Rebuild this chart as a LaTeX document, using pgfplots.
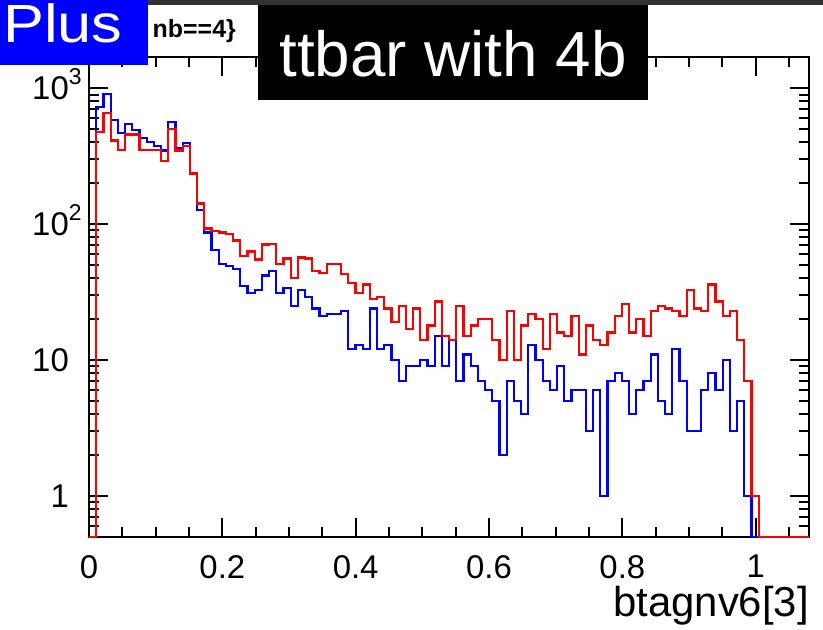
\documentclass[border=0pt]{standalone}
\usepackage{pgfplots}
\pgfplotsset{compat=1.18}
\usepackage{pgfplotstable}
\usepackage{fontspec}
\setmainfont{Liberation Sans}
\definecolor{rootblue}{RGB}{0,0,255}
\definecolor{rootred}{RGB}{255,0,0}
\newcommand{\supr}[1]{\rlap{\smash{\raisebox{15bp}{\fontsize{23}{23}\selectfont #1}}}}

% bin left edges (100 bins from 0 to 1.08), contents of the two histograms
\pgfplotstableread{
x      blue  red
0.0000 0.5   0.5
0.0108 727   475
0.0216 909   656
0.0324 586   413
0.0432 468   353
0.0540 547   457
0.0648 494   457
0.0756 432   353
0.0864 402   353
0.0972 374   353
0.1080 349   292
0.1188 569   504
0.1296 365   349
0.1404 395   374
0.1512 236   236
0.1620 127   142
0.1728 87    93
0.1836 65    89
0.1944 51    87
0.2052 49    85
0.2160 47    76
0.2268 35    58
0.2376 31    63
0.2484 33    55
0.2592 42    71
0.2700 45    72
0.2808 31    51
0.2916 34    56
0.3024 25    40
0.3132 33    57
0.3240 29    56
0.3348 24    45
0.3456 21    44
0.3564 22    51
0.3672 22    51
0.3780 23    43
0.3888 12    37
0.3996 13    31
0.4104 12    36
0.4212 24    28
0.4320 12    29
0.4428 13    24
0.4536 10    19
0.4644 7     25
0.4752 9     17
0.4860 9     24
0.4968 10    14
0.5076 9     18
0.5184 15    27
0.5292 9     15
0.5400 14    14
0.5508 7     25
0.5616 11    15
0.5724 9     18
0.5832 7     20
0.5940 6     20
0.6048 5     14
0.6156 2     10
0.6264 7     23
0.6372 5     10
0.6480 4     18
0.6588 13    22
0.6696 10    20
0.6804 7     12
0.6912 6     22
0.7020 9     16
0.7128 5     15
0.7236 6     21
0.7344 6     11
0.7452 3     18
0.7560 6     14
0.7668 1     13
0.7776 7     16
0.7884 8     21
0.7992 7     26
0.8100 4     16
0.8208 6     20
0.8316 7     15
0.8424 11    23
0.8532 5     25
0.8640 4     24
0.8748 12    23
0.8856 7     21
0.8964 3     33
0.9072 3     24
0.9180 6     23
0.9288 8     36
0.9396 6     27
0.9504 10    21
0.9612 3     23
0.9720 5     14
0.9828 1     7
0.9936 0.5   1
1.0044 0.5   0.5
1.0800 0.5   0.5
}\hist

\begin{document}
\begin{tikzpicture}
\useasboundingbox (0bp,0bp) rectangle (823bp,630bp);
\begin{axis}[
  at={(89bp,93bp)}, anchor=south west,
  scale only axis, width=720bp, height=480bp,
  xmin=0, xmax=1.08,
  ymode=log, ymin=0.5, ymax=1700,
  clip=false,
  axis line style={line width=2bp, black},
  tick align=inside,
  tick pos=both,
  major tick length=19bp,
  minor tick length=10bp,
  major tick style={line width=2bp, black},
  minor tick style={line width=2bp, black},
  xtick={0,0.2,0.4,0.6,0.8,1},
  xticklabels={0,0.2,0.4,0.6,0.8,1},
  minor xtick={0.05,0.1,0.15,0.25,0.3,0.35,0.45,0.5,0.55,0.65,0.7,0.75,0.85,0.9,0.95,1.05},
  ytick={1,10,100,1000},
  yticklabels={1,10,10\supr{2},10\supr{3}},
  minor ytick={0.6,0.7,0.8,0.9,2,3,4,5,6,7,8,9,20,30,40,50,60,70,80,90,200,300,400,500,600,700,800,900},
  tick label style={font=\fontsize{33}{36}\selectfont},
  xticklabel style={anchor=north, inner sep=0pt, yshift=-18bp},
  yticklabel style={anchor=east, inner sep=0pt, xshift=-20bp},
  xlabel={btagnv6[3]},
  xlabel style={at={(rel axis cs:1,0)}, anchor=base east, inner sep=0pt, yshift=-79bp, font=\fontsize{42}{46}\selectfont},
]
\addplot[const plot, no marks, draw=rootblue, line width=2.2bp] table[x=x, y=blue] {\hist};
\addplot[const plot, no marks, draw=rootred, line width=2.2bp] table[x=x, y=red] {\hist};
\end{axis}
% decorations of the original canvas
\fill[black!80] (148bp,625bp) rectangle (823bp,630bp);
\fill[rootblue] (0bp,565bp) rectangle (148bp,630bp);
\node[anchor=base west, inner sep=0pt, text=white, font=\fontsize{54}{54}\selectfont] at (3bp,587bp) {\scalebox{1.14}[1]{Plus}};
\node[anchor=base east, inner sep=0pt, font=\bfseries\fontsize{25}{25}\selectfont] at (236bp,592bp) {nb==4\}};
\fill[black] (258bp,530bp) rectangle (648bp,625bp);
\node[anchor=base, inner sep=0pt, text=white, font=\fontsize{64}{64}\selectfont] at (453bp,553bp) {ttbar with 4b};
\end{tikzpicture}
\end{document}
